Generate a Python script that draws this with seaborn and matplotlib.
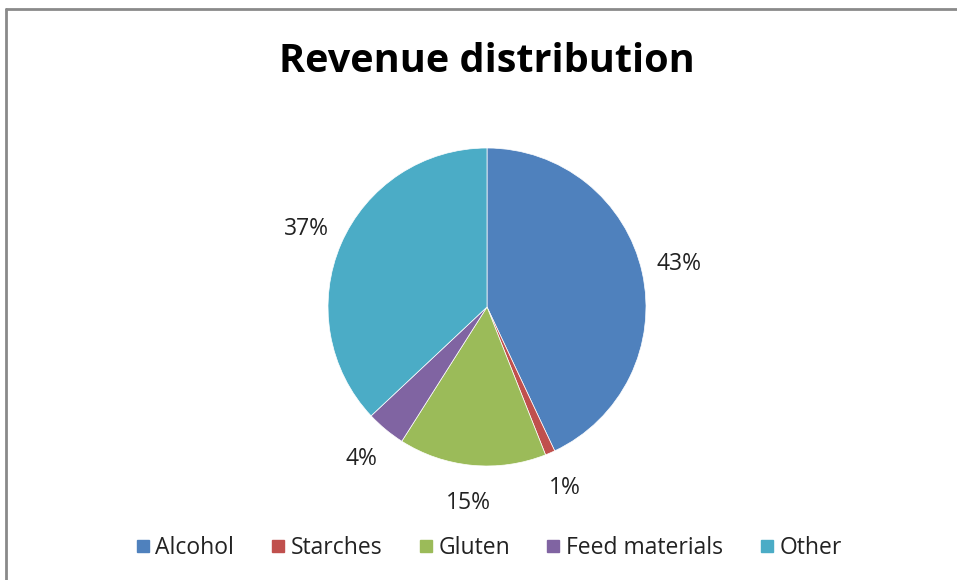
import matplotlib
matplotlib.use("Agg")
import matplotlib.pyplot as plt
from matplotlib.lines import Line2D
import seaborn as sns

categories = ["Alcohol", "Starches", "Gluten", "Feed materials", "Other"]
values = [43, 1, 15, 4, 37]
colors = ["#4F81BD", "#C0504D", "#9BBB59", "#8064A2", "#4BACC6"]
title = "Revenue distribution"

sns.set_theme(style="white")
plt.rcParams['font.family'] = ['Open Sans', 'DejaVu Sans']

fig = plt.figure(figsize=(9.57, 5.8), dpi=100)
W, H = 957, 580
cx, cy, r = 487, 307, 159
ax = fig.add_axes([(cx - r) / W, (H - cy - r) / H, 2 * r / W, 2 * r / H])

wedges, texts, autotexts = ax.pie(
    values, colors=colors, startangle=90, counterclock=False,
    autopct=lambda p: f"{p:.0f}%", pctdistance=1.24,
    wedgeprops=dict(linewidth=0.5, edgecolor="white"),
    textprops=dict(fontsize=16.5, color="#222222"))
ax.set_xlim(-1, 1)
ax.set_ylim(-1, 1)
ax.set_aspect("equal")
ax.axis("off")

fig.text(cx / W, 1 - 62 / H, title, ha="center", va="center",
         fontsize=28.5, fontweight="bold", color="black")

handles = [Line2D([0], [0], marker="s", linestyle="none", markersize=8.5,
                  markerfacecolor=c, markeredgecolor=c) for c in colors]
fig.legend(handles, categories, loc="center", bbox_to_anchor=(cx / W, 1 - 548 / H),
           ncol=5, frameon=False, fontsize=16.5, handletextpad=0.1,
           columnspacing=1.45, handlelength=0.9, labelcolor="#222222")

# chart border (top and left edges visible)
fig.add_artist(Line2D([6 / W, 6 / W], [0, 1 - 9 / H], transform=fig.transFigure,
                      color="#8a8a8a", linewidth=2))
fig.add_artist(Line2D([6 / W, 1], [1 - 9 / H, 1 - 9 / H], transform=fig.transFigure,
                      color="#8a8a8a", linewidth=2))

fig.savefig("out.png", dpi=100, facecolor="white")
